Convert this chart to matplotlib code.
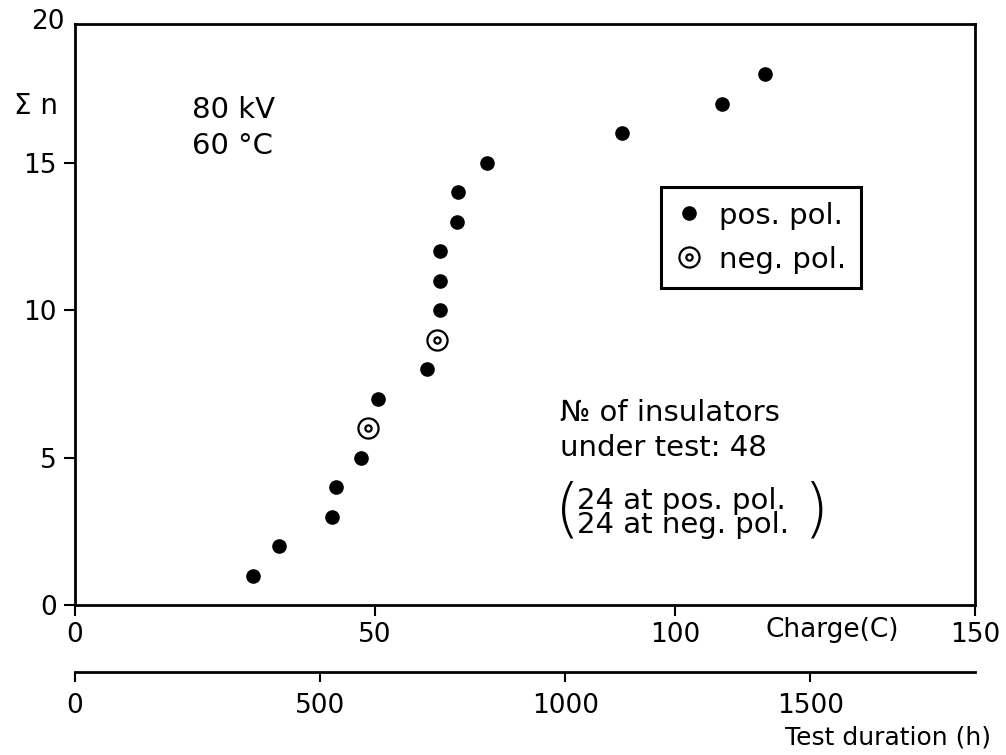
import numpy as np
import matplotlib.pyplot as plt
from matplotlib.lines import Line2D
from matplotlib.legend_handler import HandlerTuple

# Cumulative number of failures vs. charge (C)
pos_charge = [29.6, 34.0, 42.8, 43.5, 47.7, 50.5, 58.7, 60.8, 60.9, 60.9,
              63.6, 63.9, 68.6, 91.2, 107.8, 115.0]
pos_n = [1, 2, 3, 4, 5, 7, 8, 10, 11, 12, 13, 14, 15, 16, 17, 18]
neg_charge = [48.8, 60.4]
neg_n = [6, 9]

charge_ticks = [0, 50, 100, 150]
duration_ticks = [0, 500, 1000, 1500]
n_ticks = [0, 5, 10, 15]

# hours of test per coulomb of charge (scale of the second axis)
hours_per_c = 12.24

W, H = 1006, 755
fig = plt.figure(figsize=(W / 100, H / 100), dpi=100)
plt.rcParams['font.family'] = ['DejaVu Sans']


def px(x, y):
    return x / W, 1 - y / H


ax = fig.add_axes([75 / W, 150 / H, 900 / W, 581 / H])
ax.set_xlim(0, 150)
ax.set_ylim(0, 19.7)

ax.plot(pos_charge, pos_n, 'o', color='black', ms=9.5, ls='none')
ax.plot(neg_charge, neg_n, 'o', mfc='white', mec='black', mew=1.6, ms=14.5, ls='none')
ax.plot(neg_charge, neg_n, 'o', mfc='white', mec='black', mew=1.6, ms=4.5, ls='none')

for s in ax.spines.values():
    s.set_linewidth(2.0)

ax.set_xticks(charge_ticks)
ax.set_yticks(n_ticks)
ax.tick_params(direction='out', length=8, width=1.5, labelsize=19, pad=5)
ax.tick_params(axis='x', pad=4)

# top label of the y axis sits on the frame
fig.text(*px(48, 22), '20', ha='center', va='center', fontsize=19)

# second x axis: test duration
sec = ax.secondary_xaxis(-0.115, functions=(lambda c: c * hours_per_c,
                                             lambda h: h / hours_per_c))
sec.set_xticks(duration_ticks)
sec.tick_params(direction='out', length=7, width=1.5, labelsize=19, pad=8)
sec.spines['bottom'].set_linewidth(2.0)

fig.text(*px(832, 630), 'Charge(C)', ha='center', va='center', fontsize=19)
fig.text(*px(888, 738), 'Test duration (h)', ha='center', va='center', fontsize=18)

fig.text(*px(36, 106), 'Σ n', ha='center', va='center', fontsize=20)
fig.text(*px(192, 110), '80 kV', ha='left', va='center', fontsize=21)
fig.text(*px(192, 146), '60 °C', ha='left', va='center', fontsize=21)

fig.text(*px(560, 413), '№ of insulators', ha='left', va='center', fontsize=21)
fig.text(*px(560, 448), 'under test: 48', ha='left', va='center', fontsize=21)
fig.text(*px(577, 513), '24 at pos. pol.\n24 at neg. pol.', ha='left', va='center',
         fontsize=21, linespacing=0.78)
fig.text(*px(567, 512), '(', ha='center', va='center', fontsize=46, fontweight='light')
fig.text(*px(816, 512), ')', ha='center', va='center', fontsize=46, fontweight='light')

# legend
h_pos = Line2D([], [], marker='o', color='black', ms=9.5, ls='none')
h_neg_out = Line2D([], [], marker='o', mfc='white', mec='black', mew=1.6, ms=14.5, ls='none')
h_neg_in = Line2D([], [], marker='o', mfc='white', mec='black', mew=1.6, ms=4.5, ls='none')
leg = ax.legend([h_pos, (h_neg_out, h_neg_in)], ['pos. pol.', 'neg. pol.'],
                handler_map={tuple: HandlerTuple(ndivide=1)},
                loc='upper left', bbox_to_anchor=((661 - 75) / 900, (605 - 187) / 581),
                fontsize=21, frameon=True, fancybox=False, edgecolor='black',
                framealpha=1.0, handlelength=0.9, handletextpad=0.6,
                labelspacing=0.55, borderpad=0.5, borderaxespad=0)
leg.get_frame().set_linewidth(2.2)

plt.savefig('out.png', dpi=100)
